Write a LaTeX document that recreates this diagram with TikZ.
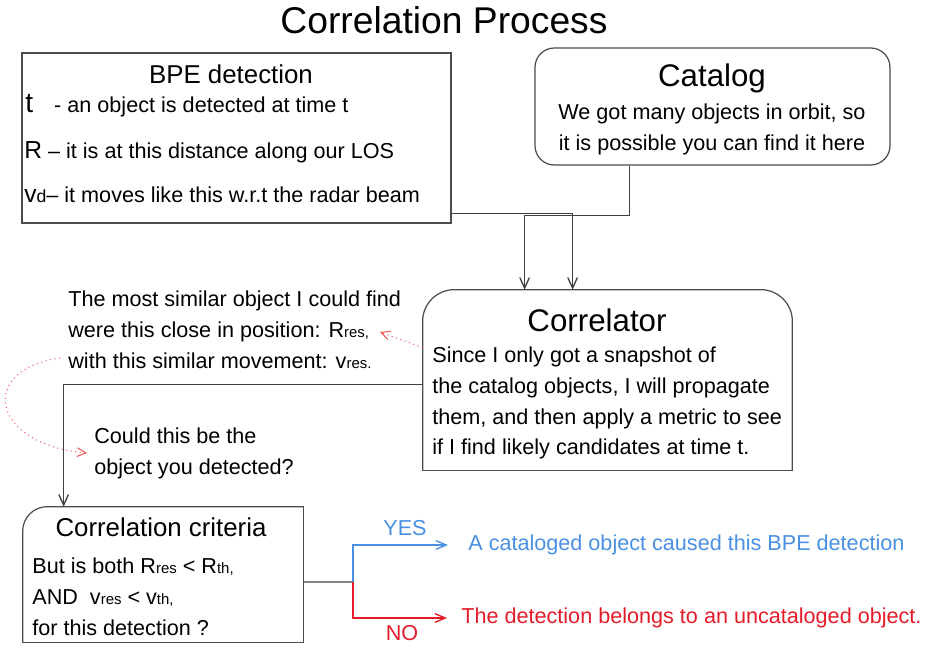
\documentclass[tikz,border=0pt]{standalone}
\usepackage{fontspec}
\setmainfont{Liberation Sans}
\usetikzlibrary{arrows.meta,fit}
\definecolor{cpblue}{RGB}{74,144,226}
\definecolor{cpred}{RGB}{228,28,42}
\definecolor{cppink}{RGB}{240,92,92}
\newcommand{\cpsub}[1]{{\fontsize{8.5}{10}\selectfont #1}}
\tikzset{
  cpbox/.style={draw=black!70, line width=0.7pt},
  cpline/.style={draw=black!75, line width=0.75pt},
  cparrow/.style={cpline, -{Straight Barb[length=6pt,width=5.5pt]}},
  cpyes/.style={draw=cpblue, line width=0.75pt, -{Straight Barb[length=6pt,width=5pt]}},
  cpno/.style={draw=cpred, line width=0.75pt, -{Straight Barb[length=6pt,width=5pt]}},
  cphint/.style={draw=cppink, line width=0.6pt, dotted, -{Straight Barb[length=5pt,width=5pt]}},
  cptext/.style={inner sep=0pt, align=left, font=\fontsize{12.3}{17.6}\selectfont},
  cphead/.style={inner sep=0pt, font=\fontsize{14.7}{17}\selectfont},
  cpbig/.style={inner sep=0pt, font=\fontsize{17.8}{20}\selectfont},
}

\begin{document}
\begin{tikzpicture}[x=0.02cm, y=-0.02cm]
\useasboundingbox (0,0) rectangle (926,648);
\node[inner sep=0pt, font=\fontsize{21.2}{24}\selectfont] (title) at (444,20) {Correlation Process};
% boxes
\node[cpbox, fit={(22,53) (451,223)}, inner sep=0pt] (bpe) {};
\node[cpbox, rounded corners=11pt, fit={(535,48) (890,165)}, inner sep=0pt] (catalog) {};
\node[fit={(423,290) (792,470)}, inner sep=0pt] (corr) {};
\draw[cpbox, rounded corners=18pt] (corr.south west) -- (corr.north west) -- (corr.north east) -- (corr.south east);
\draw[cpbox, line cap=rect] (corr.south west) -- (corr.south east);
\node[fit={(23,507) (303,642)}, inner sep=0pt] (crit) {};
\draw[cpbox, rounded corners=14pt] (crit.north east) -- (crit.north west) -- (crit.south west);
\draw[cpbox, line cap=rect] (crit.north east) -- (crit.south east) -- (crit.south west);
% texts
\node[cphead] (bpetitle) at (231,74) {BPE detection};
\node[cptext, anchor=west] (bpet) at (25,106) {{\fontsize{16}{16}\selectfont t}\hspace{12pt}- an object is detected at time t};
\node[cptext, anchor=west] (bper) at (24,152) {{\fontsize{14}{14}\selectfont R} -- it is at this distance along our LOS};
\node[cptext, anchor=west] (bpev) at (24,195) {{\fontsize{14}{14}\selectfont v}{\fontsize{10}{10}\selectfont d}-- it moves like this w.r.t the radar beam};
\node[cpbig] (cattitle) at (712,78) {Catalog};
\node[cptext, align=center] (catbody) at (712,129) {We got many objects in orbit, so\\it is possible you can find it here};
\node[cpbig] (corrtitle) at (597,320) {Correlator};
\node[cptext, anchor=west] (corrbody) at (432,403) {Since I only got a snapshot of\\the catalog objects, I will propagate\\them, and then apply a metric to see\\if I find likely candidates at time t.};
\node[cptext, anchor=west] (similar) at (68,330) {The most similar object I could find\\were this close in position: R\cpsub{res,}\\with this similar movement: v\cpsub{res.}};
\node[cptext, anchor=west] (could) at (94,453) {Could this be the\\object you detected?};
\node[cphead] (crittitle) at (161,527) {Correlation criteria};
\node[cptext, anchor=west] (critbody) at (32,597) {But is both R\cpsub{res} < R\cpsub{th,}\\AND\ \ v\cpsub{res} < v\cpsub{th,}\\for this detection ?};
\node[cptext, text=cpblue] (yes) at (405,528) {YES};
\node[cptext, text=cpred] (no) at (402,633) {NO};
\node[cptext, anchor=west, text=cpblue] (yestext) at (468,545) {A cataloged object caused this BPE detection};
\node[cptext, anchor=west, text=cpred] (notext) at (461,618) {The detection belongs to an uncataloged object.};
% connectors
\coordinate (rres) at (380,332);
\coordinate (hint) at (60,358);
\coordinate (fork) at (353,582);
\draw[cparrow] ([yshift=0.2cm]bpe.south east) -| ([xshift=3cm]corr.north west);
\draw[cparrow] ([xshift=1.9cm]catalog.south west) -- ++(0,50) -| ([xshift=2.04cm]corr.north west);
\draw[cparrow] ([yshift=-1.9cm]corr.north west) -| ([xshift=0.82cm]crit.north west);
\draw[cphint] ([yshift=-1.16cm]corr.north west) -- (rres);
\draw[cphint] (hint) .. controls (-24,370) and (-8,445) .. ([xshift=-0.14cm]could.west);
\draw[cpline] ([yshift=-0.15cm]crit.east) -- (fork);
\draw[cpyes] (fork) |- ([xshift=-0.4cm]yestext.west);
\draw[cpno] (fork) |- ([xshift=-0.28cm]notext.west);
\end{tikzpicture}
\end{document}
